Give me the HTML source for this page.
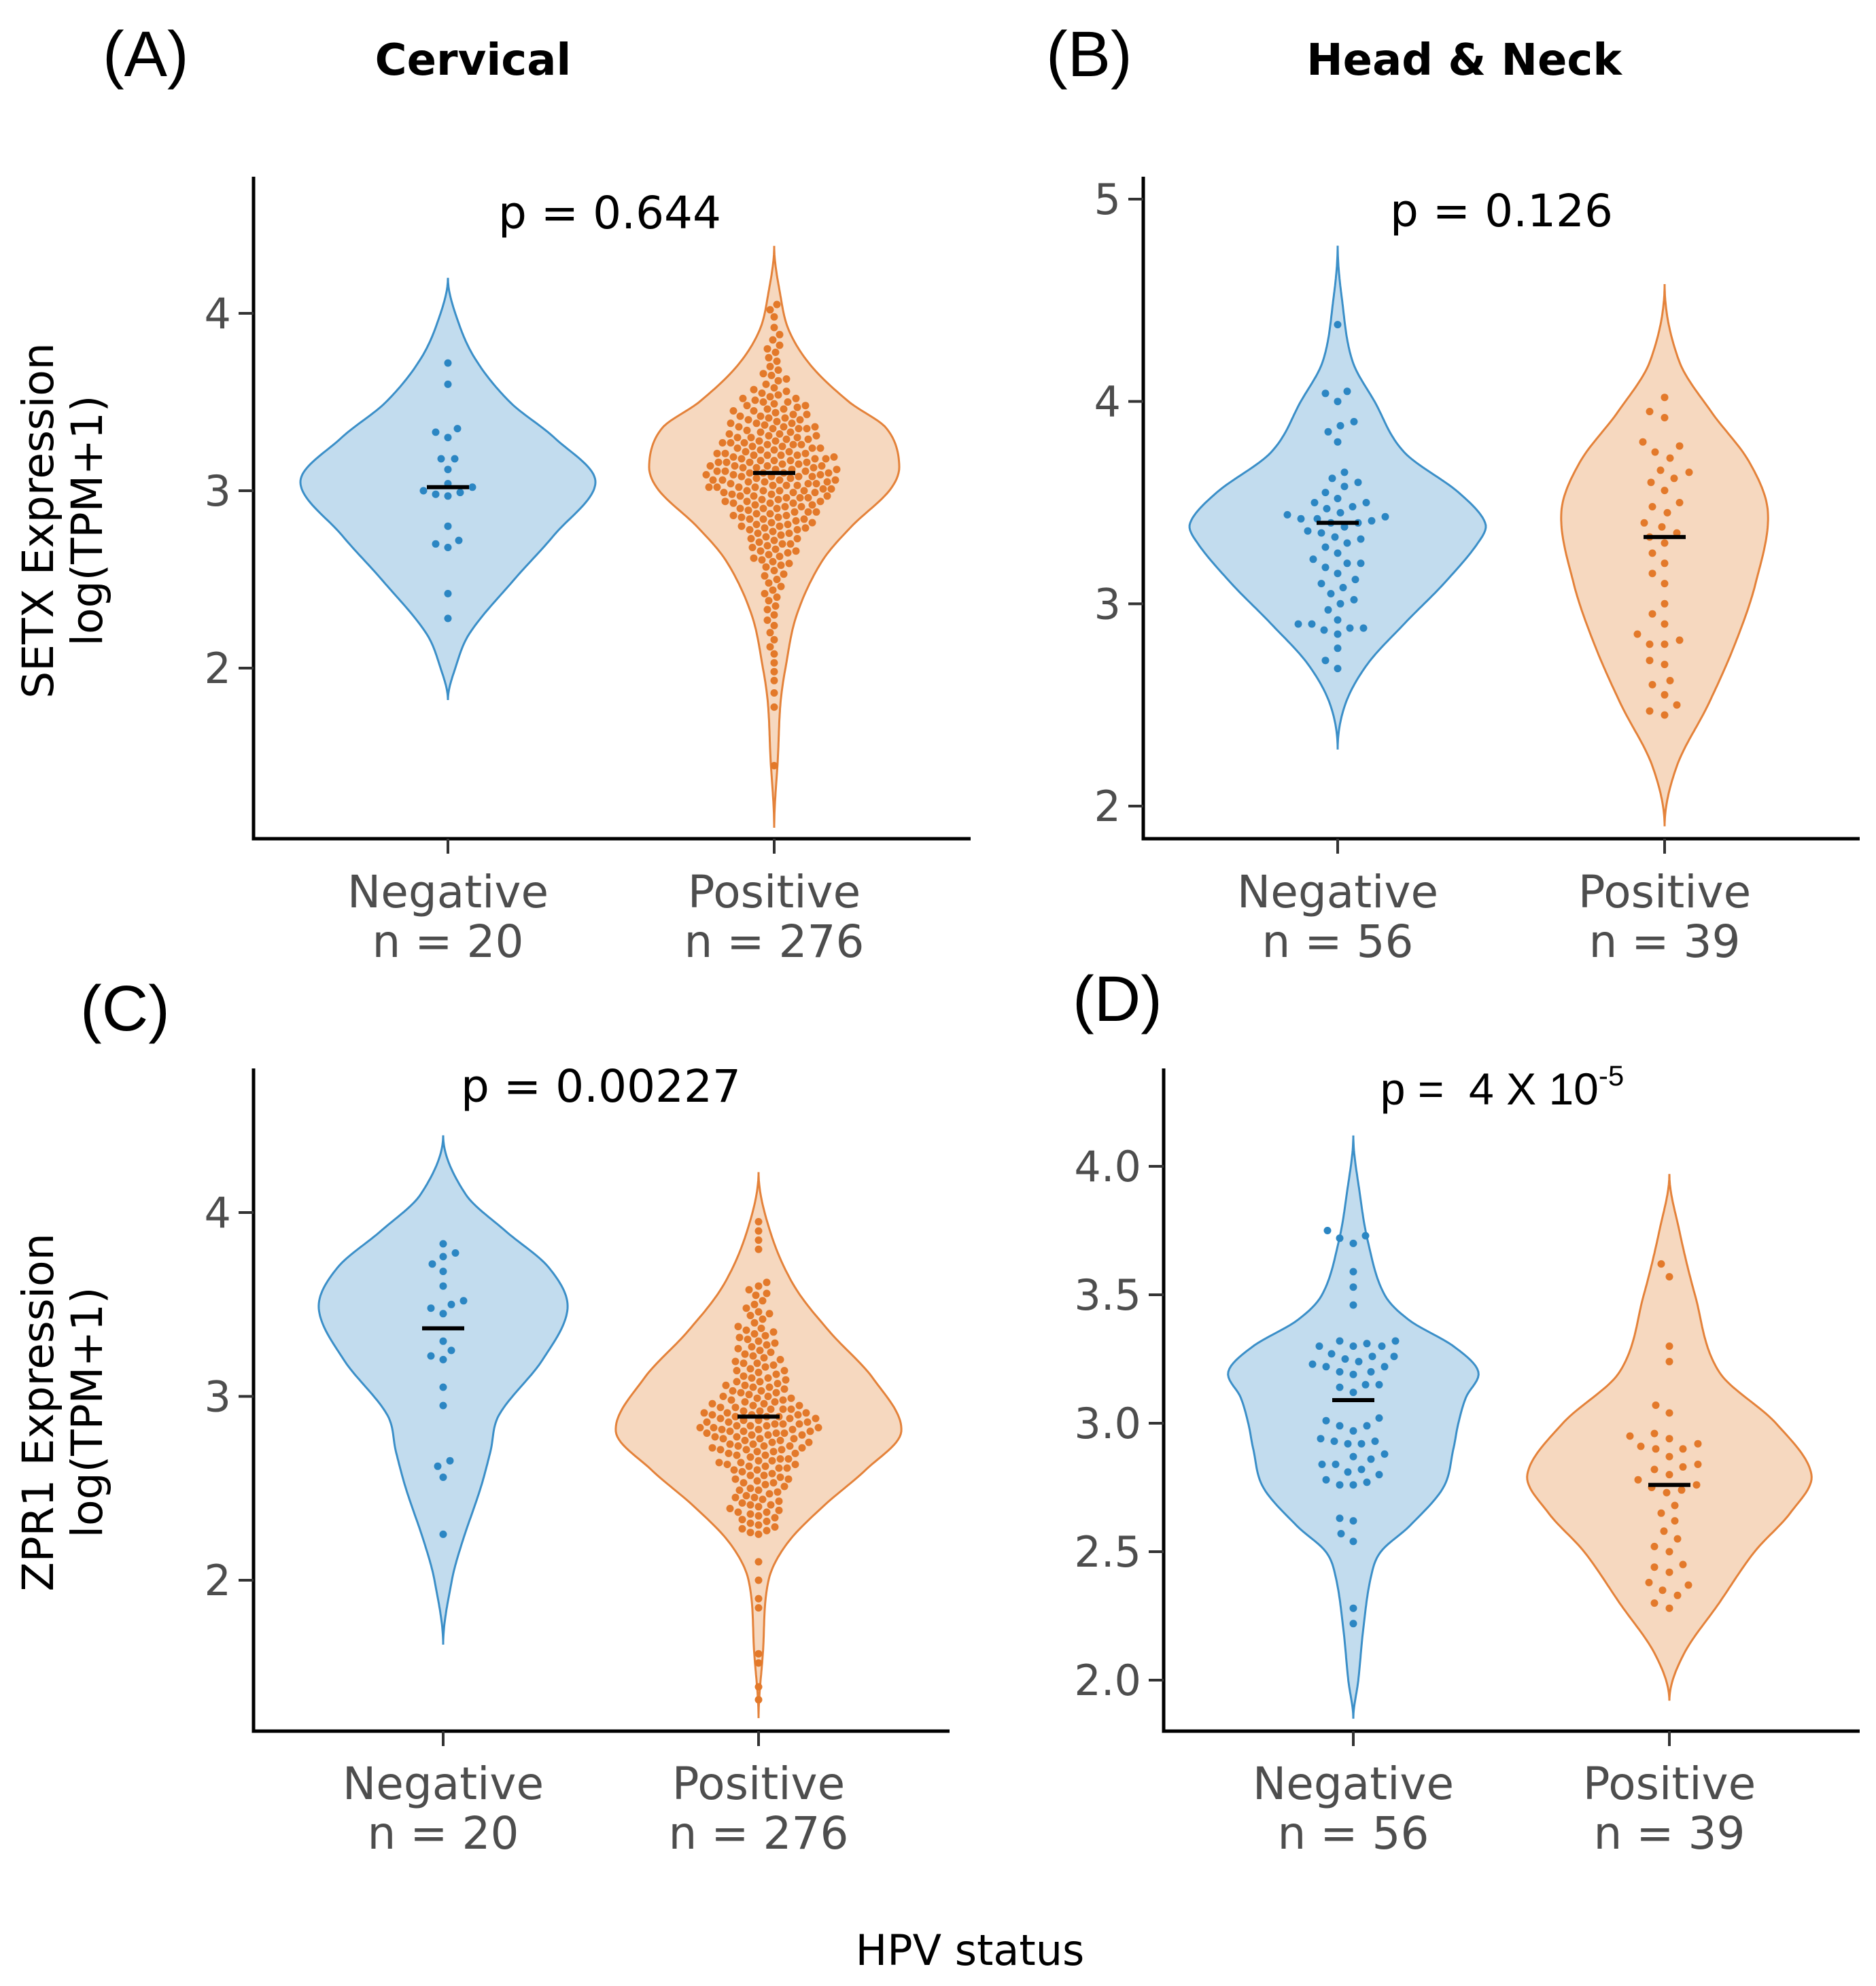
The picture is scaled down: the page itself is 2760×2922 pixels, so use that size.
<!DOCTYPE html>
<html><head><meta charset="utf-8"><style>
html,body{margin:0;padding:0;background:#fff}
svg{display:block}
</style></head><body>
<svg id="fig" xmlns="http://www.w3.org/2000/svg" width="2760" height="2922" viewBox="0 0 2760 2922">
<rect x="0" y="0" width="2760" height="2922" fill="#fff"/>
<g font-family="DejaVu Sans, Liberation Sans, sans-serif">
<text x="151" y="112" font-size="95" font-family="Liberation Sans, sans-serif">(A)</text>
<text x="696" y="110" font-size="64" font-weight="bold" text-anchor="middle">Cervical</text>
<text x="1539" y="112" font-size="95" font-family="Liberation Sans, sans-serif">(B)</text>
<text x="2154" y="110" font-size="64" font-weight="bold" text-anchor="middle">Head &amp; Neck</text>
<text x="118" y="1516" font-size="95" font-family="Liberation Sans, sans-serif">(C)</text>
<text x="1578" y="1502" font-size="95" font-family="Liberation Sans, sans-serif">(D)</text>
<text transform="translate(78,766) rotate(-90)" font-size="63" text-anchor="middle"><tspan x="0" y="0">SETX Expression</tspan><tspan x="0" y="72">log(TPM+1)</tspan></text>
<text transform="translate(78,2078) rotate(-90)" font-size="63" text-anchor="middle"><tspan x="0" y="0">ZPR1 Expression</tspan><tspan x="0" y="72">log(TPM+1)</tspan></text>
<text x="1427" y="2891" font-size="62" text-anchor="middle">HPV status</text>
</g>
<g id="panels"></g>
</svg>
<script>
// ---------- data ----------
const categories = ["Negative","Positive"];
const nLabelsCervical = ["n = 20","n = 276"];
const nLabelsHN = ["n = 56","n = 39"];
const ticksA = [2,3,4];
const ticksB = [2,3,4,5];
const ticksC = [2,3,4];
const ticksD = [2.0,2.5,3.0,3.5,4.0];
const tickLabelsD = ["2.0","2.5","3.0","3.5","4.0"];
const mediansA = [3.02,3.10];
const mediansB = [3.40,3.33];
const mediansC = [3.37,2.89];
const mediansD = [3.09,2.76];
// violin density profiles: [value, relative density]
const densA_neg = [[1.82,0],[2.0,0.05],[2.2,0.15],[2.5,0.45],[2.75,0.72],[3.05,1.0],[3.3,0.72],[3.5,0.42],[3.75,0.18],[4.0,0.05],[4.2,0]];
const densA_pos = [[1.1,0],[1.5,0.03],[1.8,0.05],[2.0,0.09],[2.3,0.18],[2.6,0.38],[2.8,0.62],[3.0,0.92],[3.14,1.0],[3.35,0.9],[3.5,0.6],[3.7,0.3],[3.9,0.12],[4.1,0.05],[4.38,0]];
const densB_neg = [[2.28,0],[2.5,0.05],[2.7,0.2],[2.9,0.45],[3.1,0.72],[3.3,0.95],[3.4,1.0],[3.55,0.82],[3.75,0.45],[4.0,0.25],[4.2,0.1],[4.5,0.03],[4.77,0]];
const densB_pos = [[1.9,0],[2.2,0.12],[2.5,0.42],[2.8,0.68],[3.1,0.88],[3.45,1.0],[3.7,0.82],[3.95,0.45],[4.2,0.14],[4.58,0]];
const densC_neg = [[1.65,0],[2.0,0.07],[2.2,0.15],[2.5,0.3],[2.7,0.38],[2.9,0.45],[3.2,0.8],[3.48,1.0],[3.7,0.85],[3.9,0.5],[4.1,0.18],[4.42,0]];
const densC_pos = [[1.25,0],[1.6,0.03],[2.0,0.07],[2.2,0.2],[2.4,0.45],[2.6,0.75],[2.81,1.0],[3.1,0.8],[3.35,0.5],[3.6,0.25],[3.9,0.08],[4.22,0]];
const densD_neg = [[1.85,0],[2.0,0.04],[2.2,0.08],[2.4,0.14],[2.5,0.22],[2.6,0.45],[2.75,0.72],[2.9,0.8],[3.0,0.84],[3.1,0.9],[3.2,1.0],[3.3,0.8],[3.4,0.45],[3.5,0.25],[3.7,0.12],[3.9,0.05],[4.12,0]];
const densD_pos = [[1.92,0],[2.1,0.1],[2.3,0.35],[2.5,0.6],[2.65,0.85],[2.8,1.0],[3.0,0.75],[3.2,0.35],[3.5,0.18],[3.75,0.07],[3.97,0]];
// observations
const ptsA_neg = [3.72,3.6,3.35,3.33,3.3,3.18,3.18,3.12,3.04,3.0,2.99,2.98,2.97,2.8,2.72,2.7,2.68,2.42,2.28,3.02];
const ptsA_pos = [4.05,4.02,3.98,3.92,3.88,3.85,3.82,3.8,3.78,3.75,3.73,3.7,3.68,3.66,3.65,3.63,3.62,3.6,3.58,3.57,3.56,3.55,3.54,3.53,3.52,3.51,3.5,3.5,3.49,3.48,3.47,3.46,3.46,3.45,3.44,3.43,3.43,3.42,3.41,3.4,3.4,3.39,3.38,3.38,3.37,3.36,3.36,3.35,3.35,3.34,3.33,3.33,3.32,3.32,3.31,3.3,3.3,3.29,3.29,3.28,3.28,3.27,3.27,3.26,3.26,3.25,3.25,3.24,3.24,3.23,3.23,3.22,3.22,3.21,3.21,3.2,3.2,3.2,3.19,3.19,3.18,3.18,3.18,3.17,3.17,3.16,3.16,3.16,3.15,3.15,3.14,3.14,3.14,3.13,3.13,3.12,3.12,3.12,3.11,3.11,3.1,3.1,3.1,3.1,3.09,3.09,3.08,3.08,3.08,3.07,3.07,3.06,3.06,3.06,3.05,3.05,3.04,3.04,3.04,3.03,3.03,3.02,3.02,3.02,3.01,3.01,3.0,3.0,3.0,2.99,2.99,2.98,2.98,2.97,2.97,2.96,2.96,2.95,2.95,2.94,2.94,2.93,2.93,2.92,2.92,2.91,2.9,2.9,2.89,2.88,2.88,2.87,2.86,2.86,2.85,2.84,2.84,2.83,2.82,2.81,2.8,2.8,2.79,2.78,2.77,2.76,2.75,2.74,2.73,2.72,2.71,2.7,2.69,2.68,2.67,2.66,2.65,2.64,2.62,2.61,2.6,2.58,2.57,2.55,2.53,2.52,2.5,2.48,2.46,2.44,2.42,2.4,2.38,2.35,2.33,2.3,2.27,2.24,2.2,2.16,2.12,2.08,2.03,1.98,1.93,1.86,1.78,1.45,3.45,3.42,3.38,3.35,3.3,3.27,3.24,3.2,3.17,3.14,3.11,3.08,3.05,3.02,2.99,2.96,2.93,2.9,2.87,2.84,2.81,2.78,3.52,3.48,3.41,3.36,3.31,3.26,3.21,3.16,3.13,3.09,3.06,3.03,3.0,2.97,2.94,2.91,2.88,2.85,2.82,2.79,2.76,2.73,2.7,2.66,2.63,2.59];
const ptsB_neg = [4.38,4.05,4.04,4.0,3.9,3.88,3.85,3.8,3.65,3.62,3.6,3.58,3.55,3.52,3.5,3.5,3.48,3.45,3.44,3.43,3.42,3.42,3.41,3.4,3.4,3.38,3.36,3.35,3.33,3.3,3.28,3.25,3.22,3.2,3.2,3.18,3.15,3.12,3.1,3.08,3.05,3.02,3.0,2.97,2.92,2.9,2.9,2.88,2.88,2.87,2.85,2.78,2.72,2.68,3.32,3.47];
const ptsB_pos = [4.02,3.95,3.92,3.8,3.78,3.75,3.72,3.66,3.65,3.62,3.6,3.56,3.5,3.48,3.45,3.4,3.38,3.35,3.33,3.3,3.25,3.2,3.15,3.0,2.95,2.9,2.85,2.82,2.8,2.8,2.72,2.7,2.62,2.6,2.55,2.5,2.47,2.45,3.1];
const ptsC_neg = [3.83,3.78,3.76,3.72,3.68,3.6,3.52,3.5,3.48,3.45,3.3,3.25,3.22,3.2,3.05,2.95,2.65,2.62,2.56,2.25];
const ptsC_pos = [3.95,3.9,3.85,3.8,3.62,3.6,3.58,3.56,3.55,3.52,3.5,3.48,3.46,3.45,3.42,3.4,3.38,3.36,3.35,3.34,3.33,3.32,3.3,3.29,3.28,3.27,3.26,3.25,3.24,3.22,3.21,3.2,3.19,3.18,3.17,3.16,3.15,3.14,3.13,3.12,3.11,3.1,3.1,3.09,3.08,3.07,3.06,3.06,3.05,3.04,3.03,3.02,3.02,3.01,3.0,3.0,2.99,2.98,2.98,2.97,2.96,2.96,2.95,2.95,2.94,2.94,2.93,2.93,2.92,2.92,2.91,2.91,2.9,2.9,2.9,2.89,2.89,2.88,2.88,2.88,2.87,2.87,2.86,2.86,2.86,2.85,2.85,2.84,2.84,2.84,2.83,2.83,2.82,2.82,2.82,2.81,2.81,2.8,2.8,2.8,2.79,2.79,2.78,2.78,2.77,2.77,2.76,2.76,2.75,2.75,2.74,2.74,2.73,2.73,2.72,2.72,2.71,2.71,2.7,2.7,2.69,2.68,2.68,2.67,2.66,2.66,2.65,2.64,2.64,2.63,2.62,2.62,2.61,2.6,2.6,2.59,2.58,2.57,2.56,2.55,2.54,2.53,2.52,2.51,2.5,2.49,2.48,2.47,2.46,2.45,2.44,2.43,2.42,2.41,2.4,2.39,2.38,2.37,2.36,2.35,2.34,2.33,2.32,2.31,2.3,2.29,2.28,2.27,2.26,2.25,2.1,2.0,1.9,1.85,1.6,1.55,1.42,1.35,3.44,3.37,3.31,3.23,3.14,3.08,3.03,2.97,2.93,2.89,2.85,2.81,2.77,2.73,2.69,2.65,2.61,2.57,2.53,2.49,2.45,2.41,2.37,3.18,3.05,2.99,2.91,2.83,2.79,2.71,2.63,2.55];
const ptsD_neg = [3.75,3.73,3.72,3.7,3.59,3.53,3.46,3.32,3.32,3.31,3.3,3.3,3.3,3.27,3.26,3.26,3.25,3.24,3.23,3.22,3.22,3.2,3.2,3.19,3.15,3.15,3.14,3.12,3.02,3.01,2.99,2.99,2.97,2.94,2.93,2.93,2.92,2.92,2.88,2.87,2.86,2.84,2.84,2.82,2.81,2.8,2.78,2.77,2.76,2.76,2.63,2.62,2.57,2.54,2.28,2.22];
const ptsD_pos = [3.62,3.57,3.3,3.24,3.07,3.04,2.96,2.95,2.94,2.92,2.91,2.9,2.9,2.87,2.84,2.83,2.82,2.8,2.78,2.76,2.75,2.74,2.73,2.68,2.65,2.62,2.58,2.55,2.52,2.5,2.45,2.44,2.42,2.38,2.37,2.35,2.33,2.3,2.28];

// ---------- drawing ----------
const NS = "http://www.w3.org/2000/svg";
const root = document.getElementById("panels");
function mk(tag, attrs, parent){ const e=document.createElementNS(NS,tag); for(const k in attrs) e.setAttribute(k,attrs[k]); (parent||root).appendChild(e); return e; }
const COLORS = [{fill:"#c2dcee",stroke:"#3b8fc8",dot:"#2b86c3"},{fill:"#f6d8bf",stroke:"#e4823a",dot:"#e3792a"}];

function densAt(prof, v){
  const n=prof.length;
  for(let i=0;i<n-1;i++){
    const a=prof[i], b=prof[i+1];
    if(v>=a[0] && v<=b[0]){
      const h=b[0]-a[0], t=(v-a[0])/h;
      const slope=(j)=>{
        if(j===0||j===n-1) return 0;
        return (prof[j+1][1]-prof[j-1][1])/(prof[j+1][0]-prof[j-1][0]);
      };
      const m0=slope(i)*h, m1=slope(i+1)*h;
      const t2=t*t, t3=t2*t;
      const val=(2*t3-3*t2+1)*a[1]+(t3-2*t2+t)*m0+(-2*t3+3*t2)*b[1]+(t3-t2)*m1;
      return Math.max(0,val);
    }
  }
  return 0;
}

function panel(cfg){
  const g = mk("g",{});
  
  
  const [v0,p0,v1,p1] = cfg.ymap;
  const y = v => p0 + (v-v0)*(p1-p0)/(v1-v0);
  const xc = i => cfg.xcat[i];
  cfg.dens.forEach((prof,i)=>{
    const lo=prof[0][0], hi=prof[prof.length-1][0];
    const N=200; let right=[], left=[];
    for(let k=0;k<=N;k++){ const v=lo+(hi-lo)*k/N; const w=densAt(prof,v)*cfg.maxw[i]; right.push([xc(i)+w,y(v)]); left.push([xc(i)-w,y(v)]); }
    const pts = right.concat(left.reverse());
    const d = "M"+pts.map(p=>p[0].toFixed(1)+","+p[1].toFixed(1)).join("L")+"Z";
    const path = mk("path",{d:d,fill:COLORS[i].fill,stroke:COLORS[i].stroke,"stroke-width":3},g);
    
    
  });
  const r=5.5;
  cfg.pts.forEach((arr,i)=>{
    const dmin=cfg.dmin[i];
    const placed=[];
    const sorted=arr.slice().sort((a,b)=>a-b);
    sorted.forEach(v=>{
      const py=y(v); let best=xc(i);
      for(let s=0;s<400;s++){
        const off = (s%2===0?1:-1)*Math.ceil(s/2)*2;
        const px = xc(i)+off;
        if(placed.every(q=>(q[0]-px)**2+(q[1]-py)**2>=dmin*dmin)){best=px;break;}
      }
      placed.push([best,py]);
      const c = mk("circle",{cx:best.toFixed(1),cy:py.toFixed(1),r:r,fill:COLORS[i].dot},g);
      
      
    });
  });
  cfg.med.forEach((m,i)=>{
    const l = mk("line",{x1:xc(i)-31,x2:xc(i)+31,y1:y(m),y2:y(m),stroke:"#000","stroke-width":6},g);
    
    
  });
  const ax = mk("path",{d:`M${cfg.ax},${cfg.top}L${cfg.ax},${cfg.bot}L${cfg.right},${cfg.bot}`,fill:"none",stroke:"#000","stroke-width":5},g);
  
  
  cfg.ticks.forEach((t,k)=>{
    const tl = mk("line",{x1:cfg.ax-22,x2:cfg.ax,y1:y(t),y2:y(t),stroke:"#333","stroke-width":4},g);
    
    
    const tx = mk("text",{x:cfg.ax-33,y:y(t)+22,"font-size":62,fill:"#4d4d4d","text-anchor":"end","font-family":"DejaVu Sans, sans-serif"},g);
    tx.textContent = cfg.tickLabels ? cfg.tickLabels[k] : String(t);
    
    
  });
  categories.forEach((c,i)=>{
    const tl = mk("line",{x1:xc(i),x2:xc(i),y1:cfg.bot,y2:cfg.bot+22,stroke:"#333","stroke-width":4},g);
    
    
    const t1 = mk("text",{x:xc(i),y:cfg.lab1,"font-size":66,fill:"#4d4d4d","text-anchor":"middle","font-family":"DejaVu Sans, sans-serif"},g);
    t1.textContent = c;
    
    
    const t2 = mk("text",{x:xc(i),y:cfg.lab1+73,"font-size":66,fill:"#4d4d4d","text-anchor":"middle","font-family":"DejaVu Sans, sans-serif"},g);
    t2.textContent = cfg.nl[i];
    
    
  });
  const p = mk("text",{x:cfg.px,y:cfg.py,"font-size":66,fill:"#000","text-anchor":"middle","font-family":cfg.pfont||"DejaVu Sans, sans-serif"},g);
  
  
  if(cfg.ptext){ p.textContent = cfg.ptext; }
  else { p.innerHTML = 'p =&#160; 4 X 10<tspan font-size="42" dy="-28">-5</tspan>'; }
}

panel({name:"panel-a-cervical-setx",ymap:[2,983,4,461],xcat:[659,1139],ax:373,top:260,bot:1234,right:1428,dmin:[18,12],
  dens:[densA_neg,densA_pos],maxw:[217,184],pts:[ptsA_neg,ptsA_pos],med:mediansA,ticks:ticksA,nl:nLabelsCervical,lab1:1335,px:897,py:336,ptext:"p = 0.644"});
panel({name:"panel-b-headneck-setx",ymap:[2,1186,5,293],xcat:[1968,2449],ax:1682,top:260,bot:1234,right:2736,dmin:[20,22],
  dens:[densB_neg,densB_pos],maxw:[217,152],pts:[ptsB_neg,ptsB_pos],med:mediansB,ticks:ticksB,nl:nLabelsHN,lab1:1335,px:2209,py:333,ptext:"p = 0.126"});
panel({name:"panel-c-cervical-zpr1",ymap:[2,2325,4,1784],xcat:[652,1116],ax:373,top:1572,bot:2547,right:1397,dmin:[18,12],
  dens:[densC_neg,densC_pos],maxw:[183,210],pts:[ptsC_neg,ptsC_pos],med:mediansC,ticks:ticksC,nl:nLabelsCervical,lab1:2647,px:884,py:1621,ptext:"p = 0.00227"});
panel({name:"panel-d-headneck-zpr1",ymap:[2,2472,4,1716],xcat:[1991,2456],ax:1712,top:1572,bot:2547,right:2736,dmin:[20,22],
  dens:[densD_neg,densD_pos],maxw:[184,209],pts:[ptsD_neg,ptsD_pos],med:mediansD,ticks:ticksD,tickLabels:tickLabelsD,nl:nLabelsHN,lab1:2647,px:2210,py:1625,pfont:"Liberation Sans, sans-serif"});
</script>
</body></html>
